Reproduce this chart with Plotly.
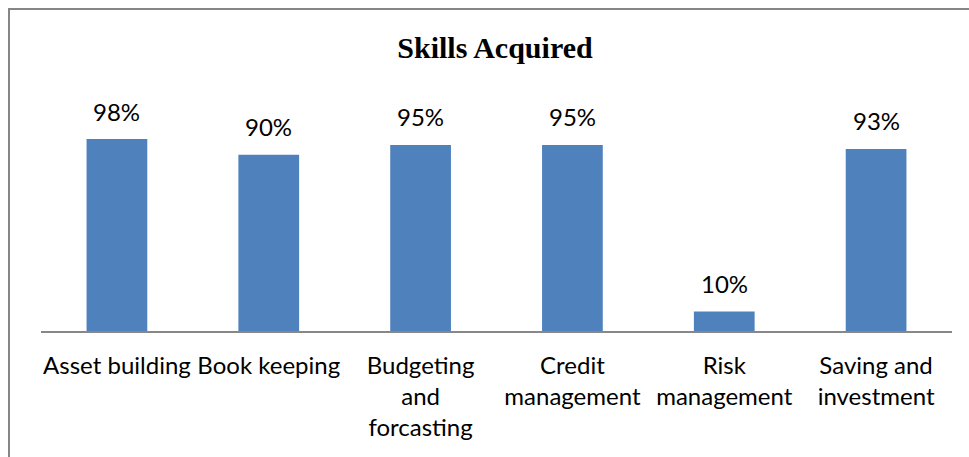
import plotly.graph_objects as go

categories = ["Asset building", "Book keeping", "Budgeting<br>and<br>forcasting",
              "Credit<br>management", "Risk<br>management", "Saving and<br>investment"]
values = [98, 90, 95, 95, 10, 93]
labels = ["98%", "90%", "95%", "95%", "10%", "93%"]

W, H = 969, 457
ml, mr, mt, mb = 41, 17, 96, 126
pw = W - ml - mr
ph = H - mt - mb

fig = go.Figure()
fig.add_trace(go.Bar(x=categories, y=values, marker=dict(color="#4F81BD", line=dict(width=0)),
                     width=0.4, hoverinfo="skip"))

for c, v, t in zip(categories, values, labels):
    fig.add_annotation(x=c, y=v, text=t, showarrow=False, yanchor="middle", yshift=28,
                       font=dict(family="Lato", size=24, color="#000000"))

fig.add_shape(type="rect", xref="paper", yref="paper",
              x0=(9 - ml) / pw, x1=1 + 40 / pw,
              y0=-1.0, y1=1 + (mt - 9) / ph,
              line=dict(color="#868686", width=2), fillcolor="rgba(0,0,0,0)", layer="below")

fig.update_layout(
    width=W, height=H,
    margin=dict(l=ml, r=mr, t=mt, b=mb, autoexpand=False),
    paper_bgcolor="white", plot_bgcolor="white",
    showlegend=False,
    title=dict(text="<b>Skills Acquired</b>", x=495 / W, xanchor="center",
               y=1 - 47 / H, yanchor="middle", automargin=False,
               font=dict(family="Liberation Serif", size=30, color="#000000")),
    xaxis=dict(showline=True, linecolor="#888888", linewidth=1.5, ticks="", showgrid=False,
               automargin=False,
               tickfont=dict(family="Lato", size=24, color="#000000"), ticklabelstandoff=12),
    yaxis=dict(range=[0, 120], visible=False, showgrid=False, automargin=False),
)

fig.write_html("out.html", config={"displayModeBar": False},
               post_script="document.body.style.margin='0';document.body.style.overflow='hidden';")
